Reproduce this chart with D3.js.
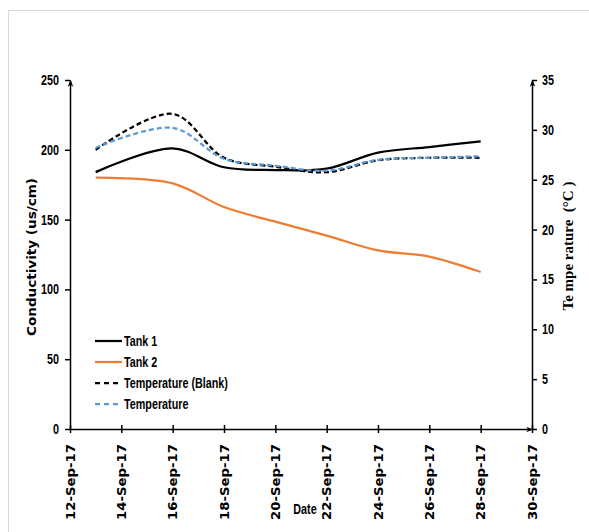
<!DOCTYPE html>
<html>
<head>
<meta charset="utf-8">
<script src="https://cdn.jsdelivr.net/npm/d3@7"></script>
<style>
  html, body { margin: 0; padding: 0; background: #fff; }
  svg { display: block; }
</style>
</head>
<body>
<div id="chart"></div>
<script>
// data
const dates = ["2017-09-13", "2017-09-16", "2017-09-18", "2017-09-20", "2017-09-22", "2017-09-24", "2017-09-26", "2017-09-28"];
const tank1 = [184, 201, 187.5, 185.5, 186.5, 198, 202, 206];
const tank2 = [180, 176, 159, 148.5, 138.5, 128, 123.5, 112.5];
const tempBlank = [28.0, 31.6, 27.2, 26.3, 25.75, 26.95, 27.2, 27.2];
const tempTank = [28.2, 30.2, 27.1, 26.4, 25.9, 27.0, 27.2, 27.35];

const leftTicks = [0, 50, 100, 150, 200, 250];
const rightTicks = [0, 5, 10, 15, 20, 25, 30, 35];
const xTickDates = ["2017-09-12", "2017-09-14", "2017-09-16", "2017-09-18", "2017-09-20", "2017-09-22", "2017-09-24", "2017-09-26", "2017-09-28", "2017-09-30"];

const seriesNames = ["Tank 1", "Tank 2", "Temperature (Blank)", "Temperature"];

const width = 589, height = 532;
const parse = d3.timeParse("%Y-%m-%d");
const sans = "'Liberation Sans', Arial, sans-serif";
const squeeze = 0.77; // the reference uses a condensed face

const svg = d3.select("#chart").append("svg")
    .attr("width", width)
    .attr("height", height);

// chart area border (only top/left visible in reference)
svg.append("rect")
    .attr("x", 8.5).attr("y", 10.5)
    .attr("width", 700).attr("height", 700)
    .attr("fill", "none")
    .attr("stroke", "#d9d9d9");

const x = d3.scaleTime()
    .domain([parse("2017-09-12"), parse("2017-09-30")])
    .range([70, 532]);
const yL = d3.scaleLinear().domain([0, 250]).range([429, 80]);
const yR = d3.scaleLinear().domain([0, 35]).range([429, 80]);

svg.append("defs").append("marker")
    .attr("id", "arrow")
    .attr("viewBox", "0 0 10 10")
    .attr("refX", 9).attr("refY", 5)
    .attr("markerWidth", 7).attr("markerHeight", 7)
    .attr("markerUnits", "userSpaceOnUse")
    .attr("orient", "auto")
  .append("path")
    .attr("d", "M0,1L10,5L0,9L3,5Z")
    .attr("fill", "#000");

const gL = svg.append("g")
    .attr("transform", "translate(70,0)")
    .call(d3.axisLeft(yL).tickValues(leftTicks).tickSize(5).tickSizeOuter(0).tickPadding(6));

const gR = svg.append("g")
    .attr("transform", "translate(532,0)")
    .call(d3.axisRight(yR).tickValues(rightTicks).tickSize(5).tickSizeOuter(0).tickPadding(5));

const gX = svg.append("g")
    .attr("transform", "translate(0,429)")
    .call(d3.axisBottom(x).tickValues(xTickDates.map(parse)).tickSize(4).tickSizeOuter(0)
        .tickFormat(d3.timeFormat("%d-%b-%y")));

[gL, gR, gX].forEach(g => {
    g.select(".domain")
        .attr("stroke", "#000")
        .attr("stroke-width", 1.5)
        .attr("marker-end", "url(#arrow)");
    g.selectAll(".tick line").attr("stroke", "#000").attr("stroke-width", 1.5);
});

gX.selectAll(".tick line").attr("y1", -4).attr("y2", 4);

// condensed numeric labels
[gL, gR].forEach(g => {
    g.selectAll(".tick text")
        .attr("font-family", sans)
        .attr("font-weight", "bold")
        .attr("font-size", 14)
        .attr("fill", "#000")
        .attr("x", function() { return +d3.select(this).attr("x") / squeeze; })
        .attr("transform", `scale(${squeeze},1)`);
});

// rotated date labels, read bottom to top
gX.selectAll(".tick text")
    .attr("font-family", "'DejaVu Sans', sans-serif")
    .attr("font-weight", "bold")
    .attr("font-size", 12)
    .attr("fill", "#000")
    .attr("text-anchor", "start")
    .attr("dy", "0.35em")
    .attr("textLength", 76)
    .attr("lengthAdjust", "spacingAndGlyphs")
    .attr("transform", "translate(0,91) rotate(-90)")
    .attr("x", 0).attr("y", 0);

// axis titles
svg.append("text")
    .attr("transform", "translate(36,257) rotate(-90)")
    .attr("text-anchor", "middle")
    .attr("font-family", "'DejaVu Sans', sans-serif")
    .attr("font-weight", "bold")
    .attr("font-size", 13)
    .attr("textLength", 158)
    .attr("lengthAdjust", "spacingAndGlyphs")
    .text("Conductivity (us/cm)");

svg.append("text")
    .attr("transform", "translate(573,246) rotate(-90)")
    .attr("text-anchor", "middle")
    .attr("font-family", "'Liberation Serif', 'Times New Roman', serif")
    .attr("font-weight", "bold")
    .attr("font-size", 15)
    .attr("xml:space", "preserve")
    .text("Te mpe rature  (°C )");

svg.append("text")
    .attr("transform", `translate(305,514) scale(${squeeze},1)`)
    .attr("text-anchor", "middle")
    .attr("font-family", sans)
    .attr("font-weight", "bold")
    .attr("font-size", 14)
    .text("Date");

// lines
const pts = dates.map(parse);
const lineL = d3.line()
    .x((d, i) => x(pts[i]))
    .y(d => yL(d))
    .curve(d3.curveCatmullRom.alpha(0.5));
const lineR = d3.line()
    .x((d, i) => x(pts[i]))
    .y(d => yR(d))
    .curve(d3.curveCatmullRom.alpha(0.5));

const series = [
    { name: seriesNames[0], values: tank1, line: lineL, color: "#000000", dash: null },
    { name: seriesNames[1], values: tank2, line: lineL, color: "#ED7D31", dash: null },
    { name: seriesNames[2], values: tempBlank, line: lineR, color: "#000000", dash: "5,3" },
    { name: seriesNames[3], values: tempTank, line: lineR, color: "#5B9BD5", dash: "5,3" }
];

svg.append("g")
  .selectAll("path")
  .data(series)
  .join("path")
    .attr("fill", "none")
    .attr("stroke", d => d.color)
    .attr("stroke-width", 2.25)
    .attr("stroke-dasharray", d => d.dash)
    .attr("d", d => d.line(d.values));

// legend
const legend = svg.append("g")
    .attr("transform", "translate(95,341)");

const item = legend.selectAll("g")
  .data(series)
  .join("g")
    .attr("transform", (d, i) => `translate(0,${i * 21})`);

item.append("line")
    .attr("x1", 0).attr("x2", 27)
    .attr("stroke", d => d.color)
    .attr("stroke-width", 2.25)
    .attr("stroke-dasharray", d => d.dash ? "5,4" : null);

item.append("text")
    .attr("transform", `translate(29,0) scale(${squeeze},1)`)
    .attr("dy", "0.35em")
    .attr("font-family", sans)
    .attr("font-weight", "bold")
    .attr("font-size", 14)
    .text(d => d.name);
</script>
</body>
</html>
